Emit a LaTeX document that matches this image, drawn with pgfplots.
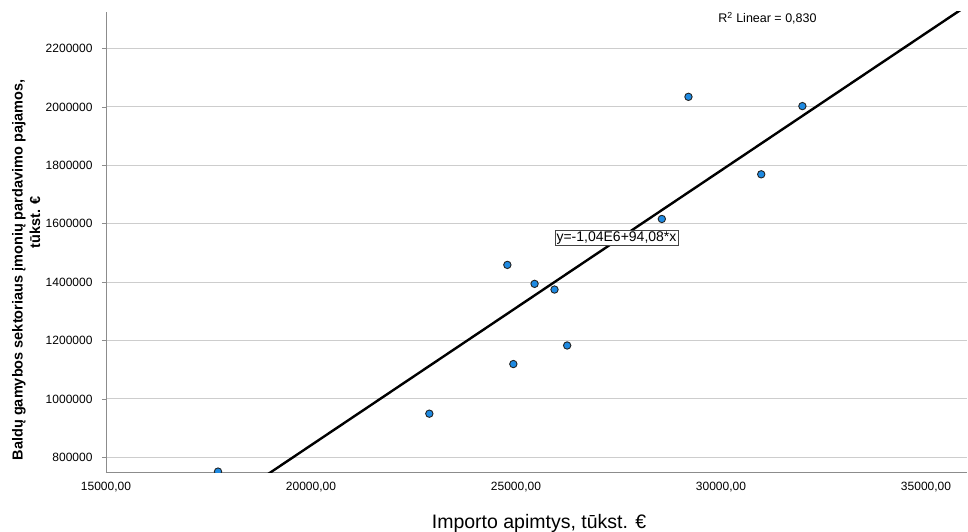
\documentclass[border=0pt]{standalone}
\usepackage{fontspec}
\setmainfont{Liberation Sans}
\usepackage{pgfplots}
\pgfplotsset{compat=1.18}
\usetikzlibrary{calc}
\definecolor{ptfill}{RGB}{30,138,226}
\definecolor{ptedge}{RGB}{35,35,35}
\definecolor{gridc}{RGB}{205,205,205}
\definecolor{axc}{RGB}{140,140,140}
\begin{document}
\begin{tikzpicture}
\begin{axis}[
  name=ax,
  scale only axis,
  width=861pt, height=460pt,
  xmin=15000, xmax=36000,
  ymin=750000, ymax=2325000,
  axis lines*=left,
  axis line style={axc, line width=0.8pt},
  scaled x ticks=false,
  scaled y ticks=false,
  xtick={15000,20000,25000,30000,35000},
  xticklabels={{15000,00},{20000,00},{25000,00},{30000,00},{35000,00}},
  ytick={800000,1000000,1200000,1400000,1600000,1800000,2000000,2200000},
  yticklabels={800000,1000000,1200000,1400000,1600000,1800000,2000000,2200000},
  ymajorgrids,
  grid style={gridc, line width=1pt},
  xtick style={draw=none},
  ytick style={axc, line width=0.8pt},
  tick align=outside,
  major tick length=4pt,
  tick label style={font=\fontsize{12}{14}\selectfont, black},
  yticklabel style={xshift=-6pt},
  xticklabel style={yshift=-3pt},
  clip marker paths=true,
]
\addplot[black, line width=2.4pt] coordinates {(18000,653440) (36500,2393920)};
\addplot[only marks, mark=*, mark size=3.7pt,
  mark options={fill=ptfill, draw=ptedge, line width=0.9pt}]
  table {
x y
17732 751400
22886 949700
24789 1459100
24935 1119600
25453 1394200
25939 1374700
26248 1183200
28557 1616400
29206 2034600
30981 1769300
31985 2002800
};
\node[font=\fontsize{12.5}{14}\selectfont] at (axis cs:31134,2303600) {R\textsuperscript{2} Linear = 0,830};
\node[draw=ptedge!85, fill=white, line width=0.8pt, inner xsep=1.5pt, inner ysep=1.2pt, font=\fontsize{14}{15}\selectfont] at (axis cs:27451,1551500) {y=-1,04E6+94,08*x};
\end{axis}
\node[rotate=90, font=\bfseries\fontsize{14.5}{16}\selectfont] at ($(ax.south west)+(-87pt,202pt)$) {Baldų gamybos sektoriaus įmonių pardavimo pajamos,};
\node[rotate=90, font=\bfseries\fontsize{14.5}{16}\selectfont] at ($(ax.south west)+(-71pt,250pt)$) {tūkst. €};
\node[anchor=base, font=\fontsize{19.5}{22}\selectfont] at ($(ax.south west)+(433pt,-56pt)$) {Importo apimtys, tūkst. €};
\pgfresetboundingbox
\path ($(ax.south west)+(-106pt,-59pt)$) rectangle ++(968pt,531pt);
\end{tikzpicture}
\end{document}
